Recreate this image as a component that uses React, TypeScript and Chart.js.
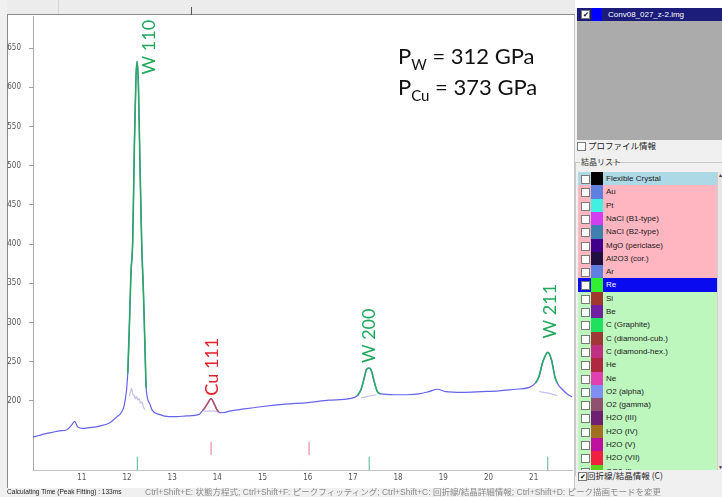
import React, { useEffect, useRef } from "react";
import { Chart, registerables } from "chart.js";
Chart.register(...registerables);

// ---------- axis ----------
const xMin = 9.92;
const xMax = 21.87;
const yMin = 112;
const yMax = 691;
const xTicks = [11, 12, 13, 14, 15, 16, 17, 18, 19, 20, 21];
const yTicks = [200, 250, 300, 350, 400, 450, 500, 550, 600, 650];

// ---------- observed profile (blue) ----------
const profileX = [9.91, 10.05, 10.18, 10.35, 10.51, 10.66, 10.77, 10.84, 10.91, 11.02, 11.17, 11.39, 11.61, 11.76, 11.87, 11.94,
  12.017, 12.054, 12.087, 12.127, 12.165, 12.198, 12.224, 12.253, 12.286, 12.326, 12.364, 12.397, 12.423,
  12.5, 12.56, 12.71, 12.93, 13.1, 13.31, 13.6, 13.674, 13.72, 13.785, 13.86, 13.933, 13.98, 14.03, 14.11, 14.27, 14.6,
  15.0, 15.5, 16.0, 16.47, 16.92, 17.1, 17.175, 17.248, 17.298, 17.358, 17.418, 17.469, 17.541, 17.617, 17.91, 18.2,
  18.46, 18.68, 18.87, 19.05, 19.42, 19.86, 20.23, 20.6, 20.89, 21.042, 21.115, 21.203, 21.313, 21.396, 21.469, 21.519,
  21.63, 21.74, 21.85];
const profileY = [154, 156, 158, 160, 162, 163, 169, 174, 167, 165, 166, 168, 172, 179, 185, 195,
  235, 298, 362, 405, 530, 612, 633, 603, 505, 400, 338, 270, 217,
  197, 188, 183, 180, 180, 181, 183, 188, 191, 197, 203, 196, 190, 186, 185, 187, 190,
  193, 196, 198, 201, 203, 207, 214, 229, 240, 242, 237, 225, 212, 209, 208, 208,
  209, 212, 215, 212, 211, 212, 213, 215, 217, 223, 231, 250, 262, 252, 231, 223,
  215, 209, 205];

// ---------- fitted peaks ----------
const w110X = [12.017, 12.054, 12.087, 12.127, 12.165, 12.198, 12.224, 12.253, 12.286, 12.326, 12.364, 12.397, 12.423];
const w110Y = [235, 298, 362, 405, 530, 612, 633, 603, 505, 400, 338, 270, 217];
const w200X = [17.1, 17.175, 17.248, 17.298, 17.358, 17.418, 17.469, 17.541, 17.617];
const w200Y = [207, 214, 229, 240, 242, 237, 225, 212, 209];
const w211X = [21.042, 21.115, 21.203, 21.313, 21.396, 21.469, 21.519];
const w211Y = [223, 231, 250, 262, 252, 231, 223];
const cu111X = [13.674, 13.72, 13.785, 13.86, 13.933, 13.98, 14.03];
const cu111Y = [188, 191, 197, 203, 196, 190, 186];

// ---------- residual / background traces (lavender) ----------
const bgW110X = [12.05, 12.08, 12.1, 12.13, 12.16, 12.19, 12.21, 12.24, 12.27, 12.3, 12.33, 12.36, 12.4];
const bgW110Y = [206, 212, 216, 209, 207, 203, 206, 201, 203, 197, 199, 193, 189];
const bgCuX = [13.7, 13.78, 13.86, 13.94, 14.03];
const bgCuY = [187, 187, 187.5, 187, 186];
const bgW200X = [17.18, 17.26, 17.34, 17.42, 17.52];
const bgW200Y = [204, 205, 206, 207, 208];
const bgW211X = [21.12, 21.22, 21.32, 21.42, 21.52];
const bgW211Y = [212, 211, 210, 208.5, 207];

// ---------- reflection position markers ----------
const wTickPos = [12.23, 17.36, 21.31];
const cuTickPos = [13.86, 16.03];
const wTickRange = [112, 129];
const cuTickRange = [131, 148];

// ---------- peak labels ----------
const peakLabels = ["W 110", "Cu 111", "W 200", "W 211"];

// ---------- crystal list ----------
const crystalNames = ["Flexible Crystal", "Au", "Pt", "NaCl (B1-type)", "NaCl (B2-type)", "MgO (periclase)", "Al2O3 (cor.)", "Ar", "Re", "Si", "Be", "C (Graphite)", "C (diamond-cub.)", "C (diamond-hex.)", "He", "Ne", "O2 (alpha)", "O2 (gamma)", "H2O (III)", "H2O (IV)", "H2O (V)", "H2O (VII)", "CO2 (I)"];
const crystalSwatches = ["#000000", "#6080e0", "#40f0e0", "#d040f0", "#4080b0", "#40008c", "#201040", "#6080e0", "#30f030", "#a03830", "#7020a0", "#20e060", "#a03838", "#c03080", "#b02840", "#e040b0", "#8090f0", "#905070", "#702070", "#a07020", "#c010a0", "#f02040", "#60d020"];

const GREEN = "#2aa866";
const GREEN_TXT = "#1fa85c";
const BLUE = "#6464ea";
const CU_LINE = "#b84a5a";
const CU_TXT = "#e0202a";
const LAV = "#c4bdf2";

const pts = (xs: number[], ys: number[]) => xs.map((x, i) => ({ x, y: ys[i] }));
const segs = (pos: number[], range: number[]) =>
  pos.flatMap((p) => [{ x: p, y: range[1] }, { x: p, y: range[0] }, { x: p, y: null as any }]);
const topOf = (xs: number[], ys: number[]) => {
  let k = 0;
  ys.forEach((v, i) => { if (v > ys[k]) k = i; });
  return { x: xs[k], y: ys[k] };
};

const labelDefs = [
  { top: topOf(w110X, w110Y), color: GREEN_TXT, dx: 12, dy: 13 },
  { top: topOf(cu111X, cu111Y), color: CU_TXT, dx: 1, dy: -3 },
  { top: topOf(w200X, w200Y), color: GREEN_TXT, dx: 0, dy: -5 },
  { top: topOf(w211X, w211Y), color: GREEN_TXT, dx: 2, dy: -14 },
];

const overlayPlugin = {
  id: "overlay",
  afterDatasetsDraw(chart: any) {
    const { ctx, scales } = chart;
    const x = scales.x, y = scales.y;
    ctx.save();
    ctx.font = "18px Lato, 'Open Sans', sans-serif";
    ctx.textBaseline = "middle";
    ctx.textAlign = "left";
    labelDefs.forEach((d, i) => {
      const px = x.getPixelForValue(d.top.x) + d.dx;
      const py = y.getPixelForValue(d.top.y) + d.dy;
      ctx.save();
      ctx.translate(px, py);
      ctx.rotate(-Math.PI / 2);
      ctx.fillStyle = d.color;
      ctx.fillText(peakLabels[i], 0, 0);
      ctx.restore();
    });
    // pressure text
    const lines = [
      { main: "P", sub: "W", rest: " = 312 GPa", bx: 398, by: 48 },
      { main: "P", sub: "Cu", rest: " = 373 GPa", bx: 398, by: 79 },
    ];
    ctx.fillStyle = "#111";
    ctx.textBaseline = "alphabetic";
    lines.forEach((l) => {
      ctx.font = "22px Lato, 'Open Sans', sans-serif";
      let cx = l.bx;
      ctx.fillText(l.main, cx, l.by);
      cx += ctx.measureText(l.main).width;
      ctx.font = "15px Lato, 'Open Sans', sans-serif";
      ctx.fillText(l.sub, cx, l.by + 6);
      cx += ctx.measureText(l.sub).width;
      ctx.font = "22px Lato, 'Open Sans', sans-serif";
      ctx.fillText(l.rest, cx, l.by);
    });
    ctx.restore();
  },
};

const axisFont = { size: 8, family: "'Liberation Sans Narrow', 'DejaVu Sans Condensed', 'Liberation Sans', sans-serif" };

function PlotCanvas() {
  const ref = useRef<HTMLCanvasElement | null>(null);
  useEffect(() => {
    if (!ref.current) return;
    const line = (data: any[], color: string, width: number, order: number) => ({
      data, borderColor: color, backgroundColor: color, borderWidth: width, pointRadius: 0,
      showLine: true, fill: false, order, cubicInterpolationMode: "monotone" as const, spanGaps: false,
    });
    const chart = new Chart(ref.current, {
      type: "scatter",
      data: {
        datasets: [
          line(pts(w110X, w110Y), GREEN, 1.6, 0),
          line(pts(w200X, w200Y), GREEN, 1.6, 0),
          line(pts(w211X, w211Y), GREEN, 1.6, 0),
          line(pts(cu111X, cu111Y), CU_LINE, 1.4, 0),
          line(segs(wTickPos, wTickRange), "#6cc79a", 1.2, 0),
          line(segs(cuTickPos, cuTickRange), "#ec8a9c", 1.2, 0),
          line(pts(profileX, profileY), BLUE, 1.2, 2),
          line(pts(bgW110X, bgW110Y), LAV, 1.2, 1),
          line(pts(bgCuX, bgCuY), LAV, 1.2, 1),
          line(pts(bgW200X, bgW200Y), LAV, 1.2, 1),
          line(pts(bgW211X, bgW211Y), LAV, 1.2, 1),
        ],
      },
      options: {
        responsive: false,
        animation: false,
        layout: { padding: 0, autoPadding: false } as any,
        plugins: { legend: { display: false }, tooltip: { enabled: false } },
        events: [],
        scales: {
          x: {
            type: "linear", min: xMin, max: xMax,
            afterBuildTicks: (s: any) => { s.ticks = xTicks.map((v) => ({ value: v })); },
            afterFit: (s: any) => { s.height = 18; s.paddingLeft = 0; s.paddingRight = 0; },
            grid: { display: false, drawTicks: false, tickLength: 0 },
            border: { display: true, color: "#c4c4c4" },
            ticks: { padding: 3, color: "#555", font: axisFont, maxRotation: 0 },
          },
          y: {
            type: "linear", min: yMin, max: yMax,
            afterBuildTicks: (s: any) => { s.ticks = yTicks.map((v) => ({ value: v })); },
            afterFit: (s: any) => { s.width = 33; s.paddingTop = 0; s.paddingBottom = 0; },
            grid: { drawOnChartArea: false, tickLength: 4, color: "#a0a0a0" },
            border: { display: true, color: "#a8a8a8" },
            ticks: { padding: 8, color: "#555", font: axisFont },
          },
        },
      } as any,
      plugins: [overlayPlugin],
    });
    return () => chart.destroy();
  }, []);
  return (
    <canvas ref={ref} width={573} height={472}
      style={{ position: "absolute", left: 0, top: 16, width: 573, height: 472 }} />
  );
}

const ROW_H = 13.3;
const uiFont = "'Liberation Sans', Arial, 'Noto Sans CJK JP', sans-serif";

function Box({ left, top, checked }: { left: number; top: number; checked?: boolean }) {
  return (
    <div style={{
      position: "absolute", left, top, width: 7, height: 7, border: "1px solid #7a7a7a",
      background: "#fff", fontSize: 7, lineHeight: "7px", textAlign: "center", color: "#000", overflow: "hidden",
    }}>{checked ? "✔" : ""}</div>
  );
}

function RightPanel() {
  return (
    <div style={{ position: "absolute", left: 575, top: 0, width: 147, height: 497, background: "#f0f0f0", fontFamily: uiFont }}>
      <div style={{ position: "absolute", left: 0, top: 0, width: 147, height: 8, background: "#ffffff" }} />
      <div style={{ position: "absolute", left: 2, top: 8, width: 145, height: 13, background: "#1c1c7a" }}>
        <Box left={4} top={2} checked />
        <div style={{ position: "absolute", left: 15, top: 0, width: 10, height: 13, background: "#0000ff" }} />
        <div style={{ position: "absolute", left: 31, top: 0, lineHeight: "13px", fontSize: 8, color: "#fff", whiteSpace: "nowrap" }}>Conv08_027_z-2.img</div>
      </div>
      <div style={{ position: "absolute", left: 2, top: 21, width: 145, height: 119, background: "#ababab" }} />
      <Box left={2} top={142} />
      <div style={{ position: "absolute", left: 13, top: 139, fontSize: 8.5, lineHeight: "13px", color: "#222", whiteSpace: "nowrap", fontFamily: "'Noto Sans CJK JP', sans-serif" }}>プロファイル情報</div>
      <div style={{ position: "absolute", left: 0, top: 162, width: 5, height: 1, background: "#c8c8c8" }} />
      <div style={{ position: "absolute", left: 36, top: 162, width: 111, height: 1, background: "#c8c8c8" }} />
      <div style={{ position: "absolute", left: 0, top: 162, width: 1, height: 314, background: "#c8c8c8" }} />
      <div style={{ position: "absolute", left: 6, top: 155, fontSize: 8, lineHeight: "13px", color: "#333", whiteSpace: "nowrap", fontFamily: "'Noto Sans CJK JP', sans-serif" }}>結晶リスト</div>
      <div style={{ position: "absolute", left: 3, top: 172, width: 139, height: 298, overflow: "hidden", background: "#fff" }}>
        {crystalNames.map((name, i) => {
          const sel = i === 8;
          const bg = i === 0 ? "#add8e6" : i < 8 ? "#ffb6c1" : sel ? "#0a0af0" : "#bdf7bd";
          const t = Math.round(i * ROW_H);
          const h = Math.round((i + 1) * ROW_H) - t;
          return (
            <div key={name} style={{ position: "absolute", left: 0, top: t, width: 139, height: h, background: bg }}>
              <Box left={3} top={2.5} />
              <div style={{ position: "absolute", left: 13, top: 0, width: 12, height: h, background: crystalSwatches[i] }} />
              <div style={{ position: "absolute", left: 28, top: 0, lineHeight: h + "px", fontSize: 8, color: sel ? "#fff" : "#1a1a1a", whiteSpace: "nowrap" }}>{name}</div>
            </div>
          );
        })}
      </div>
      <div style={{ position: "absolute", left: 142, top: 172, width: 5, height: 298, background: "#e6e6e6", borderLeft: "1px solid #d0d0d0", boxSizing: "border-box" }}>
        <div style={{ position: "absolute", left: 0, top: 0, fontSize: 5, lineHeight: "6px", color: "#333" }}>▲</div>
        <div style={{ position: "absolute", left: 0, bottom: 0, fontSize: 5, lineHeight: "6px", color: "#333" }}>▼</div>
      </div>
      <Box left={3} top={472} checked />
      <div style={{ position: "absolute", left: 12, top: 469, fontSize: 8.5, lineHeight: "13px", color: "#222", whiteSpace: "nowrap", fontFamily: "'Noto Sans CJK JP', sans-serif" }}>回折線/結晶情報 (C)</div>
    </div>
  );
}

export default function App() {
  useEffect(() => {
    document.body.style.margin = "0";
  }, []);
  return (
    <div style={{ position: "fixed", left: 0, top: 0, width: 722, height: 497, background: "#f0f0f0", overflow: "hidden", fontFamily: uiFont }}>
      {/* top strip */}
      <div style={{ position: "absolute", left: 7, top: 0, width: 568, height: 15, background: "#ececec", borderBottom: "1px solid #8a8a8a", boxSizing: "border-box" }} />
      <div style={{ position: "absolute", left: 58, top: 0, width: 1, height: 14, background: "#d8d8d8" }} />
      <div style={{ position: "absolute", left: 191, top: 7, width: 1, height: 8, background: "#555" }} />
      {/* chart frame */}
      <div style={{ position: "absolute", left: 7, top: 15, width: 568, height: 473, background: "#fff", borderLeft: "1px solid #8a8a8a", borderRight: "1px solid #c8c8c8", boxSizing: "border-box" }} />
      <PlotCanvas />
      <RightPanel />
      {/* status bar */}
      <div style={{ position: "absolute", left: 0, top: 488, width: 722, height: 9, background: "#f0f0f0" }} />
      <div style={{ position: "absolute", left: 7, top: 486, fontSize: 8, lineHeight: "12px", color: "#222", whiteSpace: "nowrap", transform: "scaleX(0.82)", transformOrigin: "left center" }}>Calculating Time (Peak Fitting) : 133ms</div>
      <div style={{ position: "absolute", left: 145, top: 486, fontSize: 8.5, lineHeight: "12px", color: "#8a8a8a", whiteSpace: "nowrap", fontFamily: "'Liberation Sans', 'Noto Sans CJK JP', sans-serif" }}>Ctrl+Shift+E: 状態方程式; Ctrl+Shift+F: ピークフィッティング; Ctrl+Shift+C: 回折線/結晶詳細情報; Ctrl+Shift+D: ピーク描画モードを変更</div>
    </div>
  );
}
